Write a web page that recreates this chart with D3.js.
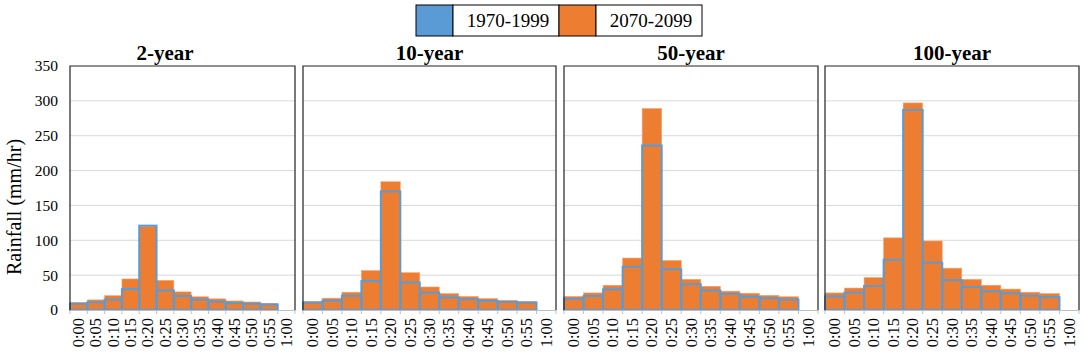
<!DOCTYPE html>
<html>
<head>
<meta charset="utf-8">
<script src="https://cdn.jsdelivr.net/npm/d3@7"></script>
<style>
  body { margin: 0; background: #fff; }
  svg { display: block; font-family: "Liberation Serif", "Times New Roman", serif; }
</style>
</head>
<body>
<svg id="chart"></svg>
<script>
const times = ["0:00", "0:05", "0:10", "0:15", "0:20", "0:25", "0:30", "0:35", "0:40", "0:45", "0:50", "0:55", "1:00"];
const panels = ["2-year", "10-year", "50-year", "100-year"];
const seriesNames = ["1970-1999", "2070-2099"];

// 1970-1999 (blue outline)
const hist2 = [9, 11, 15, 30, 121, 28, 20, 15, 12, 10, 9, 8];
const hist10 = [10.5, 13.5, 20.5, 41.5, 170, 39.5, 25, 18, 15.5, 13, 11.5, 10.5];
const hist50 = [16, 20, 29.5, 62, 236, 58.5, 37, 28, 23, 19, 17, 15];
const hist100 = [19.5, 25, 34.5, 72, 287, 68, 43, 33, 27, 24, 20.5, 18.5];

// 2070-2099 (orange)
const fut2 = [11, 14.5, 20.5, 44.5, 120, 42.5, 26, 19, 16, 13, 11.5, 9.5];
const fut10 = [12.5, 17, 25.5, 56.5, 184, 53.5, 33, 23.5, 19.5, 16.5, 14, 12.5];
const fut50 = [19.5, 24.5, 35.5, 74.5, 289, 71, 44, 34, 27, 24, 21, 19];
const fut100 = [24.5, 31.5, 46.5, 103.5, 297, 99, 60, 44, 35.5, 30, 25.5, 23.5];

const yTicks = [0, 50, 100, 150, 200, 250, 300, 350];

const histAll = [hist2, hist10, hist50, hist100];
const futAll = [fut2, fut10, fut50, fut100];

const width = 1084;
const height = 357;
const blue = "#5B9BD5";
const orange = "#ED7D31";

const svg = d3.select("#chart").attr("width", width).attr("height", height);

// plot box edges for each panel
const panelX = [[70, 295], [303, 556], [564, 818], [825, 1079]];
const plotTop = 66, plotBottom = 310;

const y = d3.scaleLinear().domain([0, 350]).range([plotBottom, plotTop]);

panels.forEach((name, i) => {
  const [x0, x1] = panelX[i];
  const x = d3.scaleBand().domain(times).range([x0, x1]).padding(0);
  const g = svg.append("g");

  // gridlines
  g.selectAll(".grid")
    .data(yTicks.filter(t => t > 0 && t < 350))
    .join("line")
    .attr("x1", x0).attr("x2", x1)
    .attr("y1", d => y(d)).attr("y2", d => y(d))
    .attr("stroke", "#d9d9d9").attr("stroke-width", 1);

  // future bars
  g.selectAll(".fut")
    .data(futAll[i])
    .join("rect")
    .attr("x", (d, j) => x(times[j]))
    .attr("y", d => y(d))
    .attr("width", x.bandwidth())
    .attr("height", d => y(0) - y(d))
    .attr("fill", orange)
    .attr("stroke", "#f4a574")
    .attr("stroke-width", 0.6);

  // historical bars (outline)
  g.selectAll(".hist")
    .data(histAll[i])
    .join("rect")
    .attr("x", (d, j) => x(times[j]))
    .attr("y", d => y(d))
    .attr("width", x.bandwidth())
    .attr("height", d => y(0) - y(d))
    .attr("fill", "none")
    .attr("stroke", blue)
    .attr("stroke-width", 2);

  // x axis
  const xAxis = g.append("g")
    .attr("transform", `translate(0,${plotBottom})`)
    .call(d3.axisBottom(x).tickSize(0).tickFormat(""));
  xAxis.select(".domain").attr("stroke", "#bfbfbf");
  // tick marks on band boundaries
  g.selectAll(".tk")
    .data(times.map(t => x(t)).concat([x1]))
    .join("line")
    .attr("x1", d => d).attr("x2", d => d)
    .attr("y1", plotBottom).attr("y2", plotBottom + 4)
    .attr("stroke", "#bfbfbf");
  g.selectAll(".xl")
    .data(times)
    .join("text")
    .attr("transform", d => `translate(${x(d) + x.bandwidth() / 2 + 5.5},${plotBottom + 8}) rotate(-90)`)
    .attr("text-anchor", "end")
    .attr("font-size", 16.5)
    .attr("fill", "#000")
    .text(d => d);

  // frame: left, top, right
  g.append("path")
    .attr("d", `M${x0},${plotBottom}V${plotTop}H${x1}V${plotBottom}`)
    .attr("fill", "none")
    .attr("stroke", "#222")
    .attr("stroke-width", 1.2);

  // title
  g.append("text")
    .attr("x", i === 0 ? 165 : (x0 + x1) / 2)
    .attr("y", 60)
    .attr("text-anchor", "middle")
    .attr("font-size", 21)
    .attr("font-weight", "bold")
    .text(name);

  if (i === 0) {
    const yAxis = g.append("g")
      .attr("transform", `translate(${x0},0)`)
      .call(d3.axisLeft(y).tickValues(yTicks).tickSize(0).tickPadding(12));
    yAxis.select(".domain").remove();
    yAxis.selectAll("text")
      .attr("font-size", 15.5)
      .attr("font-family", "Liberation Serif, serif")
      .attr("fill", "#000");
    g.append("text")
      .attr("transform", `translate(21,${(plotTop + plotBottom) / 2 + 19}) rotate(-90)`)
      .attr("text-anchor", "middle")
      .attr("font-size", 20)
      .text("Rainfall (mm/hr)");
  }
});

// legend
const legendX = 416, legendY = 5, legendH = 31;
const swatchW = 37, textW = 106;
const legend = svg.append("g").attr("transform", `translate(${legendX},${legendY})`);
seriesNames.forEach((s, k) => {
  const off = k * (swatchW + textW);
  legend.append("rect")
    .attr("x", off).attr("y", 0)
    .attr("width", swatchW).attr("height", legendH)
    .attr("fill", k === 0 ? blue : orange)
    .attr("stroke", "#000").attr("stroke-width", 1);
  legend.append("rect")
    .attr("x", off + swatchW).attr("y", 0)
    .attr("width", textW).attr("height", legendH)
    .attr("fill", "#fff")
    .attr("stroke", "#000").attr("stroke-width", 1);
  legend.append("text")
    .attr("x", off + swatchW + textW / 2 + 2)
    .attr("y", legendH / 2 + 6.5)
    .attr("text-anchor", "middle")
    .attr("font-size", 19)
    .text(s);
});
</script>
</body>
</html>
